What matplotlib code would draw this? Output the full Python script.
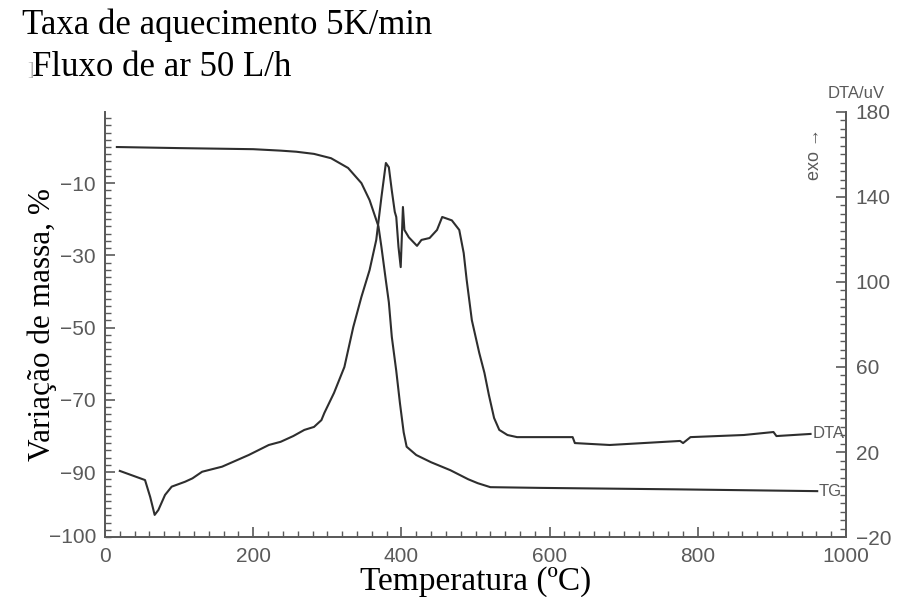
import matplotlib

matplotlib.use("Agg")
import matplotlib.pyplot as plt
from matplotlib.ticker import MultipleLocator

# TG curve (mass change, %) vs temperature (C)
TG_TEMP = [16, 100, 200, 237, 258, 282, 305, 328, 346, 357, 369, 373, 379, 383,
           387, 393, 398, 403, 407, 420, 440, 466, 490, 503, 520, 588, 770, 961]
TG_MASS = [0.0, -0.3, -0.6, -1.0, -1.3, -1.9, -3.1, -5.8, -10.0, -14.7, -22.0,
           -27.7, -37.0, -43.0, -52.6, -62.0, -71.0, -79.0, -83.0, -85.3, -87.3,
           -89.5, -92.0, -93.1, -94.2, -94.4, -94.8, -95.3]

# DTA curve (uV) vs temperature (C)
DTA_TEMP = [20, 54, 61, 67, 72, 81, 90, 108, 118, 131, 158, 194, 221, 237, 254,
            269, 282, 292, 296, 309, 323, 335, 346, 357, 366, 373, 379, 383, 387,
            391, 393, 396, 399, 402, 404, 410, 421, 427, 438, 448, 455, 468, 478,
            484, 488, 495, 505, 512, 518, 525, 532, 543, 556, 631, 634, 681, 726,
            776, 780, 790, 862, 902, 906, 952]
DTA_UV = [11.1, 6.8, -1.2, -9.6, -7.3, -0.2, 3.7, 6.0, 7.6, 10.7, 13.1, 18.6,
          23.3, 24.8, 27.5, 30.4, 31.8, 35.0, 38.4, 47.8, 60.0, 78.8, 93.0, 105.6,
          119.8, 140.0, 156.0, 154.0, 143.0, 133.0, 130.6, 116.5, 107.0, 135.3,
          124.5, 121.0, 117.0, 119.8, 120.7, 124.5, 130.6, 129.0, 124.5, 113.6,
          101.0, 82.0, 66.6, 57.2, 46.8, 36.0, 30.4, 28.0, 27.0, 27.0, 24.2, 23.3,
          24.2, 25.2, 24.2, 27.0, 28.0, 29.4, 27.5, 28.5]

X_TICKS = [0, 200, 400, 600, 800, 1000]
TG_TICKS = [-90, -70, -50, -30, -10]
DTA_TICKS = [-20, 20, 60, 100, 140, 180]

SERIF = "Liberation Serif"
SANS = "Liberation Sans"
GREY = "#5a5a5a"
LINE = "#2e2e2e"

fig = plt.figure(figsize=(9.06, 5.97), dpi=100)
ax = fig.add_axes([0.1159, 0.1005, 0.818, 0.7119])
ax2 = ax.twinx()

ax.plot(TG_TEMP, TG_MASS, color=LINE, lw=1.5)
ax2.plot(DTA_TEMP, DTA_UV, color=LINE, lw=1.5)

ax.set_xlim(0, 1000)
ax.set_ylim(-108, 9.7)
ax2.set_ylim(-20, 180)

for a in (ax, ax2):
    a.spines["top"].set_visible(False)
    for s in a.spines.values():
        s.set_color(GREY)
        s.set_linewidth(1.3)

# x axis ticks
ax.set_xticks(X_TICKS)
ax.set_xticklabels([str(v) for v in X_TICKS], fontfamily=SANS, fontsize=15, color=GREY)
ax.xaxis.set_minor_locator(MultipleLocator(20))

# left (TG) axis
ax.set_yticks(TG_TICKS)
ax.set_yticklabels(["\u2212" + str(-v) for v in TG_TICKS], fontfamily=SANS,
                   fontsize=15, color=GREY)
ax.yaxis.set_minor_locator(MultipleLocator(2))
ax.text(-0.012, 0.0, "\u2212100", transform=ax.transAxes, ha="right", va="center",
        fontfamily=SANS, fontsize=15, color=GREY)

# right (DTA) axis
ax2.set_yticks(DTA_TICKS)
ax2.set_yticklabels([("\u2212" + str(-v)) if v < 0 else str(v) for v in DTA_TICKS],
                    fontfamily=SANS, fontsize=15, color=GREY)
ax2.yaxis.set_minor_locator(MultipleLocator(4))

ax.tick_params(axis="both", which="major", direction="in", length=7, width=1.2,
               color=GREY, pad=7)
ax.tick_params(axis="both", which="minor", direction="in", length=4, width=1.0,
               color=GREY)
ax2.tick_params(axis="y", which="major", direction="in", length=7, width=1.2,
                color=GREY, pad=7)
ax2.tick_params(axis="y", which="minor", direction="in", length=4, width=1.0,
                color=GREY)

# axis labels
ax.set_xlabel("Temperatura (ºC)", fontfamily=SERIF, fontsize=24, labelpad=0)
ax.set_ylabel("Variação de massa, %", fontfamily=SERIF, fontsize=22.5, labelpad=2)

# curve labels and instrument annotations
ax.text(963, -95.4, "TG", ha="left", va="center", fontfamily=SANS, fontsize=12,
        color=GREY)
ax2.text(955, 28.5, "DTA", ha="left", va="center", fontfamily=SANS, fontsize=12,
         color=GREY)
ax2.text(1.013, 1.044, "DTA/uV", transform=ax2.transAxes, ha="center",
         va="center", fontfamily=SANS, fontsize=12, color=GREY)
ax2.text(0.958, 0.90, "exo \u2192", transform=ax2.transAxes, ha="center",
         va="center", rotation=90, fontfamily=SANS, fontsize=13, color=GREY)

fig.text(22 / 906, 1 - 25 / 597, "Taxa de aquecimento 5K/min", ha="left",
         va="center", fontfamily=SERIF, fontsize=25)
fig.text(27 / 906, 1 - 70 / 597, "]", ha="left", va="center", fontfamily=SERIF,
         fontsize=14, color="#b0b0b0")
fig.text(32 / 906, 1 - 67 / 597, "Fluxo de ar 50 L/h", ha="left", va="center",
         fontfamily=SERIF, fontsize=25)

fig.savefig("out.png", dpi=100)
